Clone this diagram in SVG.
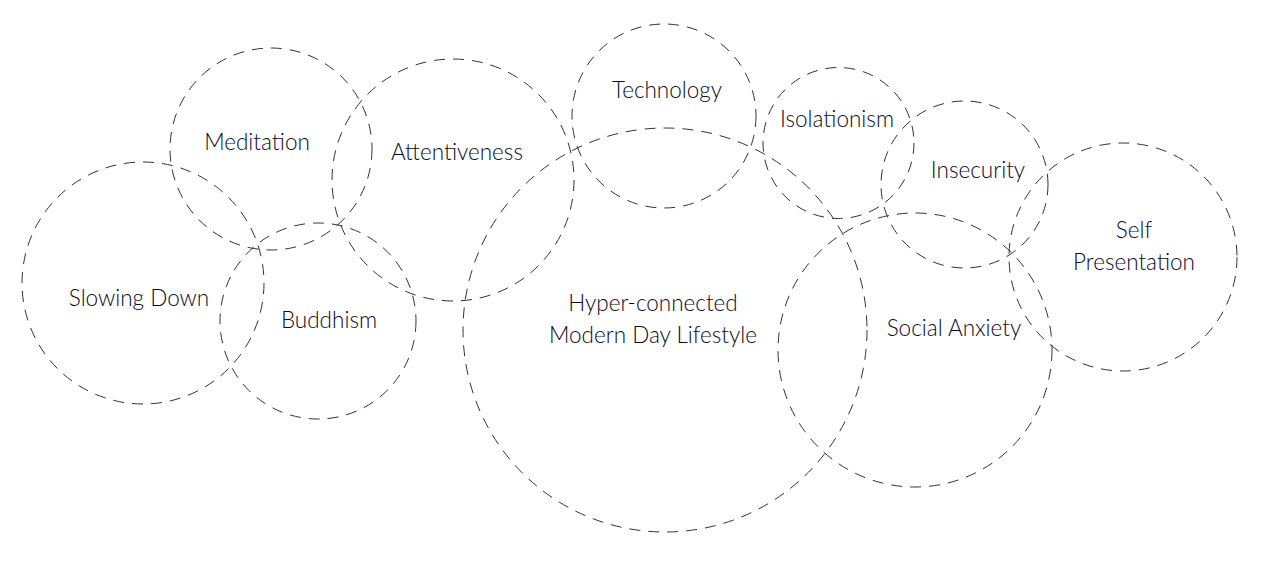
<svg xmlns="http://www.w3.org/2000/svg" width="1265" height="573" viewBox="0 0 1265 573">
<style>
.c{fill:none;stroke:#333;stroke-width:1;stroke-dasharray:11 8}
.t{font-family:"Lato","Noto Sans",sans-serif;font-weight:300;font-size:22.5px;fill:#0a0a20;text-anchor:middle}
</style>
<rect width="1265" height="573" fill="#fff"/>
<g id="slowing-down"><circle class="c" cx="143" cy="283" r="121"/><text class="t" x="139" y="306">Slowing Down</text></g>
<g id="meditation"><circle class="c" cx="271" cy="149" r="101"/><text class="t" x="257" y="150">Meditation</text></g>
<g id="buddhism"><circle class="c" cx="318" cy="321" r="98"/><text class="t" x="329" y="328">Buddhism</text></g>
<g id="attentiveness"><circle class="c" cx="453" cy="180" r="121"/><text class="t" x="457" y="160">Attentiveness</text></g>
<g id="technology"><circle class="c" cx="664" cy="116" r="92"/><text class="t" x="667" y="98">Technology</text></g>
<g id="hyper-connected"><circle class="c" cx="665" cy="330" r="202"/><text class="t" x="653" y="311">Hyper-connected</text><text class="t" x="653" y="343">Modern Day Lifestyle</text></g>
<g id="isolationism"><circle class="c" cx="838.5" cy="143" r="75.5"/><text class="t" x="837" y="127">Isolationism</text></g>
<g id="insecurity"><circle class="c" cx="964.5" cy="184.5" r="83.5"/><text class="t" x="978" y="178">Insecurity</text></g>
<g id="social-anxiety"><circle class="c" cx="915" cy="350" r="137"/><text class="t" x="954" y="336">Social Anxiety</text></g>
<g id="self-presentation"><circle class="c" cx="1123" cy="257" r="114"/><text class="t" x="1134" y="238">Self</text><text class="t" x="1134" y="270">Presentation</text></g>
<g id="connectors"/>
</svg>
